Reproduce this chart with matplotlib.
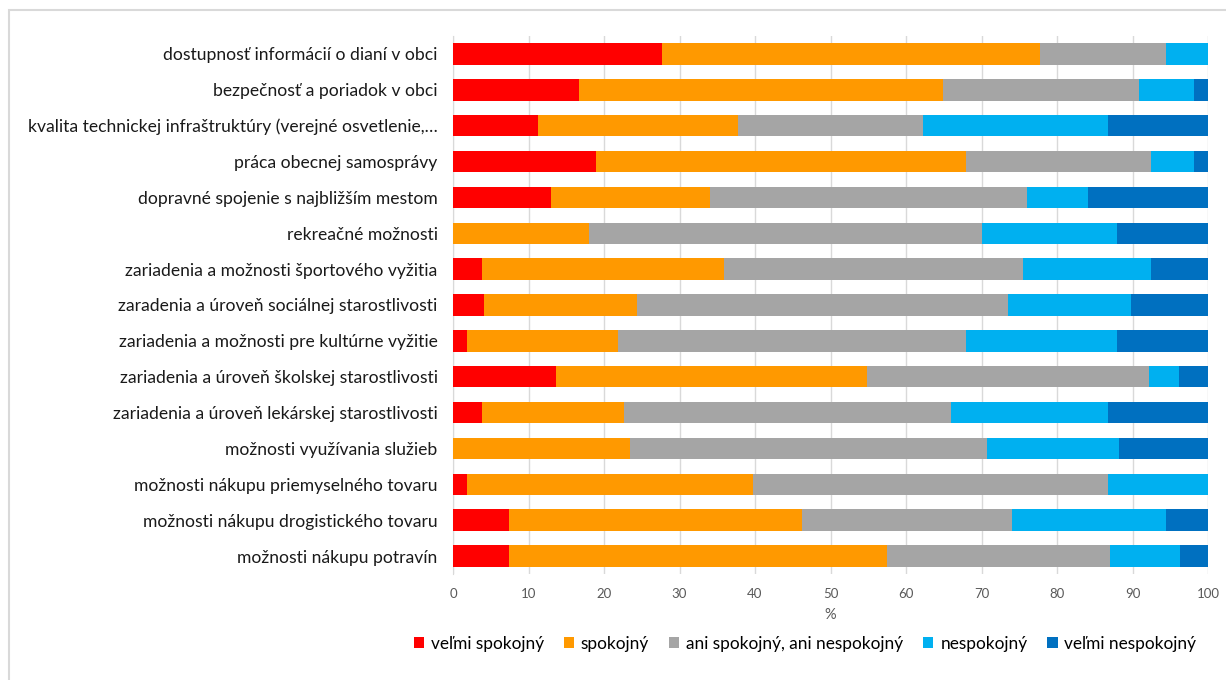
import numpy as np
import matplotlib.pyplot as plt
from matplotlib.patches import Rectangle

plt.rcParams['font.family'] = ['Lato', 'DejaVu Sans']

# categories listed top to bottom
categories = [
    'dostupnosť informácií o dianí v obci',
    'bezpečnosť a poriadok v obci',
    'kvalita technickej infraštruktúry (verejné osvetlenie,…',
    'práca obecnej samosprávy',
    'dopravné spojenie s najbližším mestom',
    'rekreačné možnosti',
    'zariadenia a možnosti športového vyžitia',
    'zaradenia a úroveň sociálnej starostlivosti',
    'zariadenia a možnosti pre kultúrne vyžitie',
    'zariadenia a úroveň školskej starostlivosti',
    'zariadenia a úroveň lekárskej starostlivosti',
    'možnosti využívania služieb',
    'možnosti nákupu priemyselného tovaru',
    'možnosti nákupu drogistického tovaru',
    'možnosti nákupu potravín',
]

velmi_spokojny = [27.7, 16.7, 11.3, 18.9, 13.0, 0.0, 3.8, 4.1, 1.9, 13.7, 3.8, 0.0, 1.9, 7.4, 7.4]
spokojny = [50.1, 48.2, 26.4, 49.0, 21.0, 18.0, 32.1, 20.3, 20.0, 41.2, 18.9, 23.5, 37.8, 38.8, 50.1]
ani_ani = [16.7, 25.9, 24.6, 24.6, 42.0, 52.0, 39.6, 49.1, 46.1, 37.3, 43.3, 47.2, 47.1, 27.9, 29.5]
nespokojny = [5.5, 7.4, 24.5, 5.7, 8.1, 18.0, 17.0, 16.3, 20.0, 3.9, 20.8, 17.5, 13.2, 20.4, 9.3]
velmi_nespokojny = [0.0, 1.8, 13.2, 1.8, 15.9, 12.0, 7.5, 10.2, 12.0, 3.9, 13.2, 11.8, 0.0, 5.5, 3.7]

series = [velmi_spokojny, spokojny, ani_ani, nespokojny, velmi_nespokojny]
labels = ['veľmi spokojný', 'spokojný', 'ani spokojný, ani nespokojný', 'nespokojný', 'veľmi nespokojný']
colors = ['#FF0000', '#FF9900', '#A5A5A5', '#00B0F0', '#0070C0']

fig = plt.figure(figsize=(12.26, 6.8), dpi=100)
# outer chart border (top and left visible)
fig.patches.append(Rectangle((9 / 1226, -0.1), 1.2, 1 - 10 / 680 + 0.1, transform=fig.transFigure,
                             fill=False, edgecolor='#d9d9d9', linewidth=1.5))

ax = fig.add_axes([453 / 1226, 1 - 574 / 680, 755 / 1226, 538 / 680])
y = np.arange(len(categories))
left = np.zeros(len(categories))
for vals, lab, col in zip(series, labels, colors):
    ax.barh(y, vals, left=left, height=0.6, color=col, label=lab, zorder=3)
    left += np.array(vals)

ax.set_xlim(0, 100)
ax.set_ylim(len(categories) - 0.5, -0.5)
ax.set_xticks(np.arange(0, 101, 10))
ax.set_yticks(y)
ax.set_yticklabels(categories, fontsize=12.6, color='#1a1a1a')
ax.tick_params(axis='y', length=0, pad=11)
ax.tick_params(axis='x', length=0, pad=10, labelsize=9.5, labelcolor='#595959')
ax.grid(axis='x', color='#d9d9d9', linewidth=1, zorder=0)
for s in ['top', 'right', 'bottom']:
    ax.spines[s].set_visible(False)
ax.spines['left'].set_color('#d9d9d9')
ax.set_xlabel('%', fontsize=10.5, color='#595959', labelpad=6)

fig.legend(loc='center', bbox_to_anchor=(805 / 1226, 1 - 644 / 680), ncol=5, frameon=False,
           fontsize=12.4, handlelength=0.6, handleheight=0.6, handletextpad=0.4, columnspacing=1.15)

fig.savefig('out.png', dpi=100)
